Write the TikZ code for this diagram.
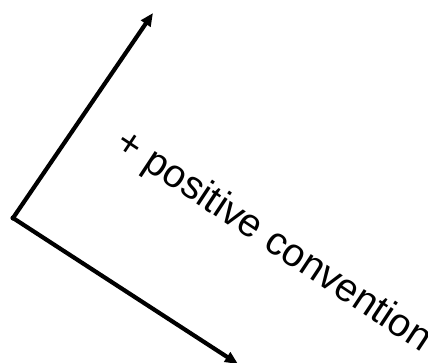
\documentclass[tikz,border=0pt]{standalone}
\usepackage{fontspec}
\setmainfont{Liberation Sans}
\usetikzlibrary{arrows.meta}
\begin{document}
\begin{tikzpicture}[x=1pt,y=-1pt,
  axis/.style={line width=4.2pt,-{Triangle[length=13pt,width=11pt]}},
  label/.style={font=\fontsize{39.5}{42}\selectfont,rotate=-33.5,inner sep=0pt}]
\useasboundingbox (0,0) rectangle (428,363);
\coordinate (o) at (13,218);
\coordinate (up) at (153,13);
\coordinate (dn) at (238,364);
\fill (o) circle (2.6pt);
\draw[axis] (o) -- (up);
\draw[axis] (o) -- (dn);
\node[label] (t) at (273,242) {+ positive convention};
\end{tikzpicture}
\end{document}
